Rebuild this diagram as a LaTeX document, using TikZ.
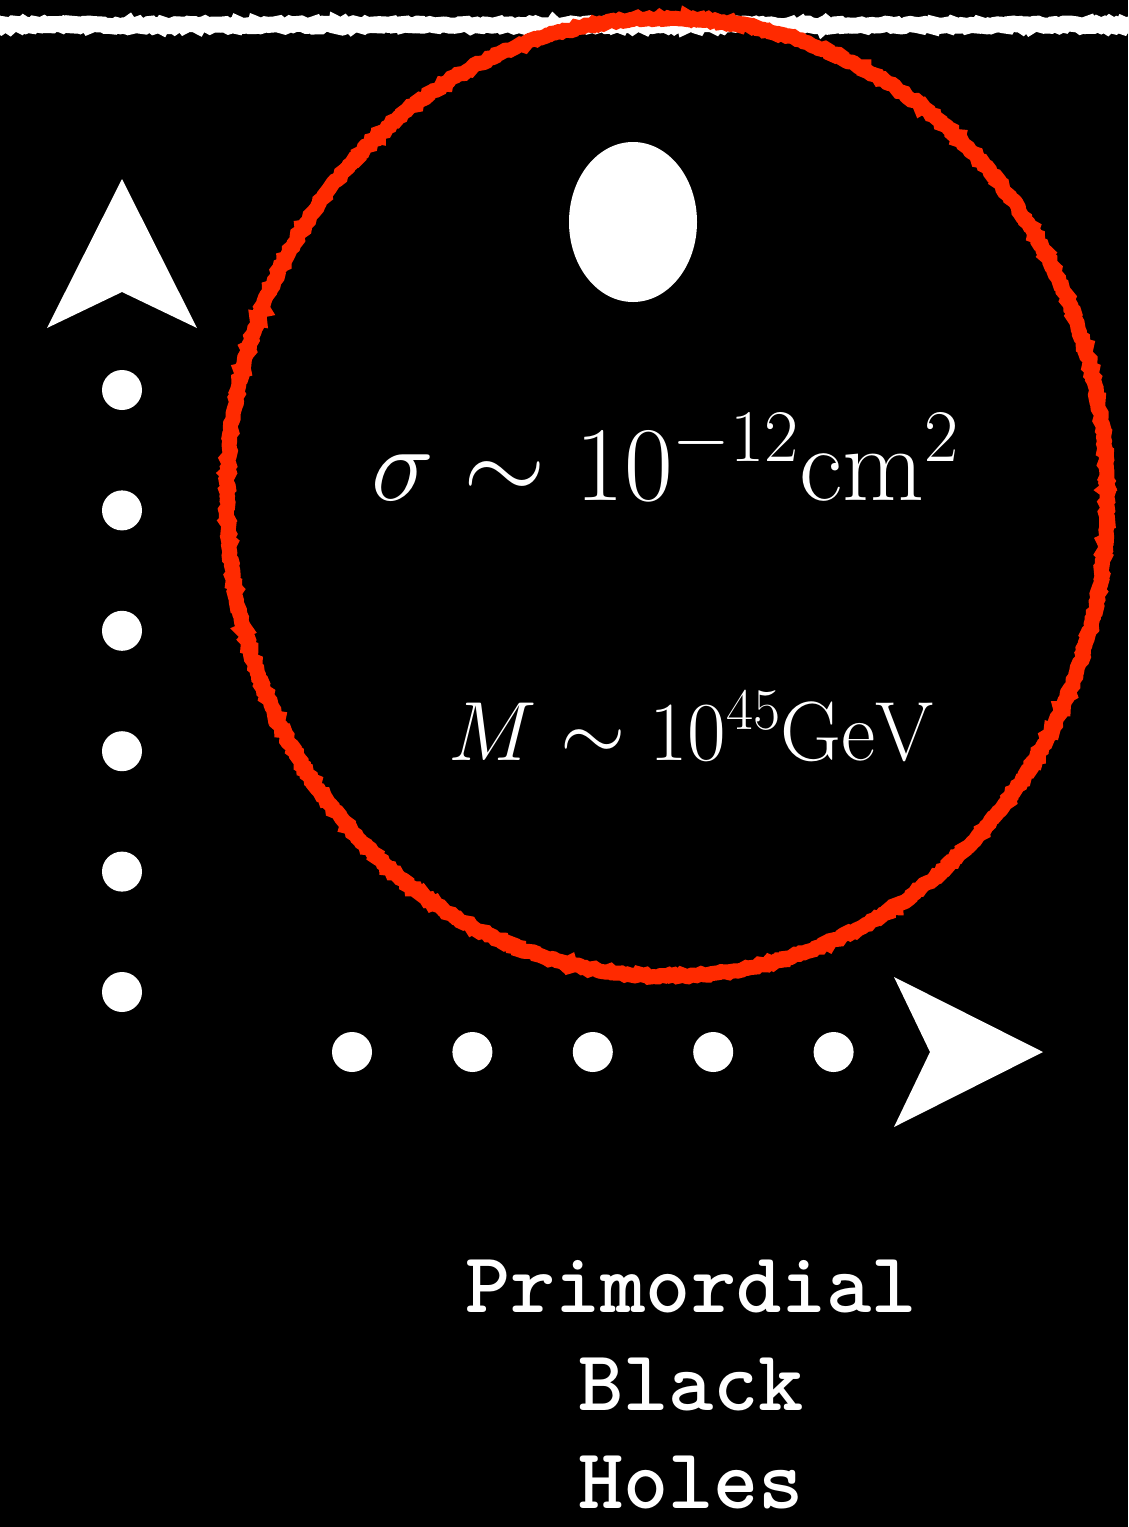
\RequirePackage{fix-cm}
\documentclass[tikz,border=0pt]{standalone}
\usetikzlibrary{positioning,decorations.pathmorphing}
\definecolor{pen}{HTML}{FF2A00}

\begin{document}
\begin{tikzpicture}[x=1pt, y=-1pt, node distance=80pt and 80pt,
  d/.style={circle, fill=white, minimum size=40pt, inner sep=0pt},
  t/.style={text=white, inner sep=0pt, anchor=base},
  rough/.style={decorate, decoration={random steps, segment length=3pt, amplitude=1.5pt}}]
\useasboundingbox (0,0) rectangle (1128,1527);
\clip (0,0) rectangle (1128,1527);
\fill[black] (0,0) rectangle (1128,1527);
\draw[white, line width=16pt, rough] (-10,25) -- (1140,25);
\fill[white] (633,222) ellipse [x radius=64, y radius=80];
\draw[pen, line width=15pt, rough] (667,497) ellipse [x radius=440, y radius=479];
\node[t, font=\fontsize{106}{120}\selectfont] (s) at (665,500) {$\sigma\sim10^{-12}\mathrm{cm}^2$};
\node[t, font=\fontsize{84}{100}\selectfont] (m) at (692,760) {$M\sim10^{45}\mathrm{GeV}$};
% vertical dots
\node[d] (v1) at (122,390) {};
\node[d, below=of v1] (v2) {};
\node[d, below=of v2] (v3) {};
\node[d, below=of v3] (v4) {};
\node[d, below=of v4] (v5) {};
\node[d, below=of v5] (v6) {};
\coordinate (up) at (122,179);
\fill[white] (up) -- ++(75,149) -- ++(-75,-36) -- ++(-75,36) -- cycle;
% horizontal dots
\node[d] (h1) at (352,1052) {};
\node[d, right=of h1] (h2) {};
\node[d, right=of h2] (h3) {};
\node[d, right=of h3] (h4) {};
\node[d, right=of h4] (h5) {};
\coordinate (rt) at (1043,1052);
\fill[white] (rt) -- ++(-149,75) -- ++(36,-75) -- ++(-36,-75) -- cycle;
\node[t, font=\fontsize{86}{98}\selectfont\ttfamily\bfseries, align=center] (pbh) at (691,1508) {Primordial\\Black\\Holes};
\end{tikzpicture}
\end{document}
